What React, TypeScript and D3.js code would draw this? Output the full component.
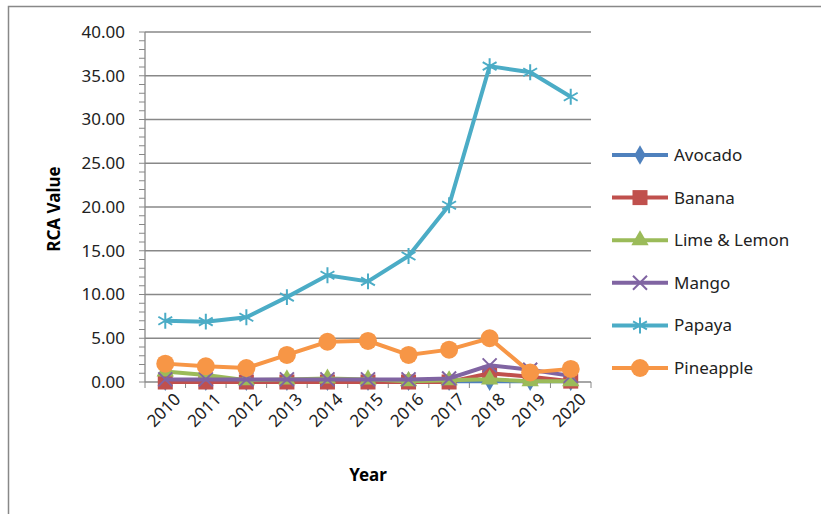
import React, { useEffect, useRef } from 'react';
import * as d3 from 'd3';

const years = ["2010", "2011", "2012", "2013", "2014", "2015", "2016", "2017", "2018", "2019", "2020"];
const avocado = [0.1, 0.1, 0.1, 0.1, 0.1, 0.1, 0.1, 0.1, 0.1, 0.1, 0.1];
const banana = [0, 0, 0, 0, 0, 0, 0, 0, 1.0, 0.6, 0.1];
const lime = [1.2, 0.8, 0.2, 0.3, 0.4, 0.3, 0.1, 0.2, 0.3, 0.1, 0.1];
const mango = [0.3, 0.3, 0.3, 0.3, 0.3, 0.3, 0.3, 0.4, 1.9, 1.4, 0.7];
const papaya = [7.0, 6.9, 7.4, 9.7, 12.2, 11.5, 14.4, 20.2, 36.1, 35.4, 32.6];
const pineapple = [2.1, 1.8, 1.6, 3.1, 4.6, 4.7, 3.1, 3.7, 5.0, 1.1, 1.5];
const yTicks = [0, 5, 10, 15, 20, 25, 30, 35, 40];

const series = [
  { name: "Avocado", values: avocado, color: "#4f81bd", marker: "diamond" },
  { name: "Banana", values: banana, color: "#c0504d", marker: "square" },
  { name: "Lime & Lemon", values: lime, color: "#9bbb59", marker: "triangle" },
  { name: "Mango", values: mango, color: "#8064a2", marker: "x" },
  { name: "Papaya", values: papaya, color: "#4bacc6", marker: "star" },
  { name: "Pineapple", values: pineapple, color: "#f79646", marker: "circle" },
];

const FONT = "'Noto Sans', 'Open Sans', sans-serif";

const drawMarker = (g: any, type: string, color: string, x: number, y: number) => {
  if (type === "diamond") g.append("path").attr("d", d3.symbol(d3.symbolDiamond, 110)()).attr("transform", `translate(${x},${y})`).attr("fill", color);
  else if (type === "square") g.append("rect").attr("x", x - 7.5).attr("y", y - 7.5).attr("width", 15).attr("height", 15).attr("fill", color);
  else if (type === "triangle") g.append("path").attr("d", d3.symbol(d3.symbolTriangle, 130)()).attr("transform", `translate(${x},${y})`).attr("fill", color);
  else if (type === "circle") g.append("circle").attr("cx", x).attr("cy", y).attr("r", 9).attr("fill", color);
  else if (type === "x") g.append("path").attr("d", d3.symbol(d3.symbolX, 130)()).attr("transform", `translate(${x},${y})`).attr("stroke", color).attr("stroke-width", 2).attr("fill", "none");
  else if (type === "star") g.append("path").attr("d", d3.symbol(d3.symbolAsterisk, 180)()).attr("transform", `translate(${x},${y})`).attr("stroke", color).attr("stroke-width", 2).attr("fill", "none");
};

const App: React.FC = () => {
  const ref = useRef<SVGSVGElement | null>(null);

  useEffect(() => {
    const svg = d3.select(ref.current);
    svg.selectAll("*").remove();
    const left = 145, right = 591, top = 32, bottom = 382;

    svg.append("rect").attr("x", 8.5).attr("y", 6.5).attr("width", 830).attr("height", 520)
      .attr("fill", "white").attr("stroke", "#888").attr("stroke-width", 1.5);

    const x = d3.scaleBand().domain(years).range([left, right]);
    const y = d3.scaleLinear().domain([0, 40]).range([bottom, top]);

    const grid = svg.append("g");
    yTicks.forEach(t => {
      grid.append("line").attr("x1", left).attr("x2", right).attr("y1", y(t)).attr("y2", y(t)).attr("stroke", "#888").attr("stroke-width", 1.3);
      svg.append("text").attr("x", left - 20).attr("y", y(t)).attr("dy", "0.35em").attr("text-anchor", "end")
        .attr("font-family", FONT).attr("font-size", 17).attr("fill", "#222").text(t.toFixed(2));
    });
    grid.append("line").attr("x1", left).attr("x2", left).attr("y1", top).attr("y2", bottom).attr("stroke", "#888").attr("stroke-width", 1.3);
    d3.range(0, 41, 1).forEach(v => {
      grid.append("line").attr("x1", left - 6).attr("x2", left).attr("y1", y(v)).attr("y2", y(v)).attr("stroke", "#888");
    });
    const step = x.step();
    d3.range(0, years.length * 2 + 1).forEach(i => {
      const px = left + i * step / 2;
      grid.append("line").attr("x1", px).attr("x2", px).attr("y1", bottom).attr("y2", bottom + 6).attr("stroke", "#888");
    });

    const line = d3.line<number>().x((_, i) => (x(years[i]) as number) + step / 2).y(d => y(d));
    series.forEach(s => {
      const g = svg.append("g");
      g.append("path").attr("d", line(s.values)).attr("fill", "none").attr("stroke", s.color).attr("stroke-width", 4);
      s.values.forEach((v, i) => drawMarker(g, s.marker, s.color, (x(years[i]) as number) + step / 2, y(v)));
    });

    years.forEach(yr => {
      const px = (x(yr) as number) + step / 2 + 8;
      svg.append("text").attr("transform", `translate(${px},${bottom + 10}) rotate(-45)`).attr("text-anchor", "end")
        .attr("dy", "0.7em").attr("font-family", FONT).attr("font-size", 17).attr("fill", "#222").text(yr);
    });

    svg.append("text").attr("x", 368).attr("y", 481).attr("text-anchor", "middle")
      .attr("font-family", FONT).attr("font-size", 17).attr("font-weight", "bold").text("Year");
    svg.append("text").attr("transform", `translate(60,${(top + bottom) / 2 + 2}) rotate(-90)`).attr("text-anchor", "middle")
      .attr("font-family", FONT).attr("font-size", 17).attr("font-weight", "bold").text("RCA Value");

    series.forEach((s, i) => {
      const ly = 155 + i * 42.6;
      const g = svg.append("g");
      g.append("line").attr("x1", 612).attr("x2", 668).attr("y1", ly).attr("y2", ly).attr("stroke", s.color).attr("stroke-width", 4);
      drawMarker(g, s.marker, s.color, 640, ly);
      g.append("text").attr("x", 674).attr("y", ly).attr("dy", "0.35em").attr("font-family", FONT)
        .attr("font-size", 17).attr("fill", "#222").text(s.name);
    });
  }, []);

  return <svg ref={ref} width={821} height={514} style={{ display: "block", position: "absolute", left: 0, top: 0 }} />;
};

export default App;
